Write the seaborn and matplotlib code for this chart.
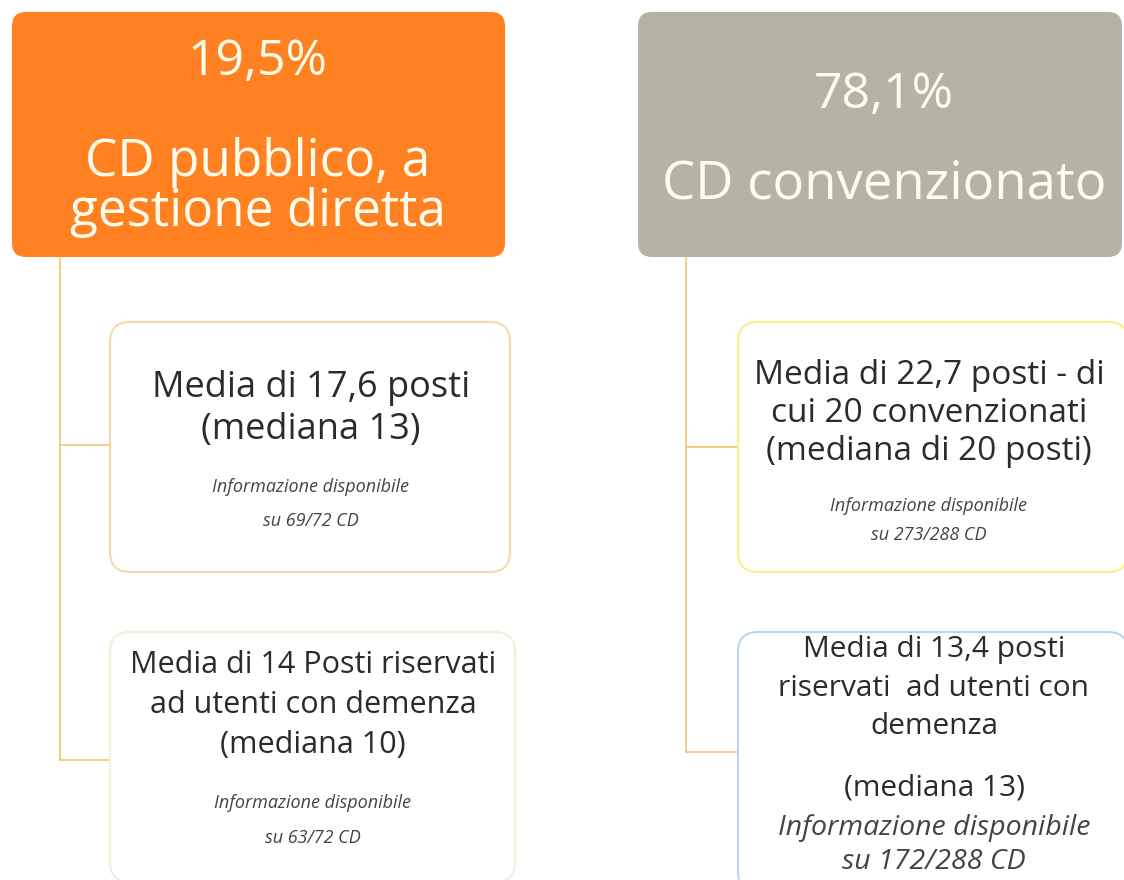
import matplotlib
matplotlib.use("Agg")
import matplotlib.pyplot as plt
from matplotlib.patches import FancyBboxPatch
import seaborn as sns
import pandas as pd

# ---- content ----
header_pct = ["19,5%", "78,1%"]
header_lbl = [["CD pubblico, a", "gestione diretta"], ["CD convenzionato"]]
header_col = ["#FF8121", "#B5B3A3"]

child_main = [
    ["Media di 17,6 posti", "(mediana 13)"],
    ["Media di 14 Posti riservati", "ad utenti con demenza", "(mediana 10)"],
    ["Media di 22,7 posti - di", "cui 20 convenzionati", "(mediana di 20 posti)"],
    ["Media di 13,4 posti", "riservati  ad utenti con", "demenza", "(mediana 13)"],
]
child_note = [
    ["Informazione disponibile", "su 69/72 CD"],
    ["Informazione disponibile", "su 63/72 CD"],
    ["Informazione disponibile", "su 273/288 CD"],
    ["Informazione disponibile", "su 172/288 CD"],
]
child_edge = ["#F7D9A8", "#F3EEDC", "#FAF08A", "#BFD3EE"]

sns.set_theme(style="white")
plt.rcParams['font.family'] = ['Open Sans', 'DejaVu Sans']

W, H = 1124, 880
fig = plt.figure(figsize=(W / 100, H / 100), dpi=100)
ax = fig.add_axes([0, 0, 1, 1])

# connectors
line_col = "#F4C66E"
segs = [((60, 258), (60, 760)), ((60, 445), (110, 445)), ((60, 760), (110, 760)),
        ((686, 258), (686, 752)), ((686, 447), (738, 447)), ((686, 752), (738, 752))]
for p0, p1 in segs:
    df = pd.DataFrame({"x": [p0[0], p1[0]], "y": [p0[1], p1[1]]})
    sns.lineplot(data=df, x="x", y="y", ax=ax, color=line_col, lw=1.2,
                 sort=False, estimator=None, zorder=1)
ax.set_xlim(0, W)
ax.set_ylim(H, 0)
ax.axis("off")

# header boxes
hboxes = [(12, 12, 493, 245), (638, 12, 484, 245)]
for (x, y, w, h), c in zip(hboxes, header_col):
    ax.add_patch(FancyBboxPatch((x + 14, y + 14), w - 28, h - 28,
                                boxstyle="round,pad=14", fc=c, ec="none", zorder=2))

txtc = "#FFFCEB"
ax.text(258, 62, header_pct[0], ha="center", va="center", fontsize=36, color=txtc, zorder=3)
ax.text(258, 163, header_lbl[0][0], ha="center", va="center", fontsize=37, color=txtc, zorder=3)
ax.text(258, 212, header_lbl[0][1], ha="center", va="center", fontsize=37, color=txtc, zorder=3)
ax.text(884, 95, header_pct[1], ha="center", va="center", fontsize=36, color=txtc, zorder=3)
ax.text(884, 185, header_lbl[1][0], ha="center", va="center", fontsize=38, color=txtc, zorder=3)

# child boxes
cboxes = [(110, 322, 400, 250), (110, 632, 405, 250), (738, 322, 390, 250), (738, 632, 390, 260)]
for (x, y, w, h), ec in zip(cboxes, child_edge):
    ax.add_patch(FancyBboxPatch((x + 20, y + 20), w - 40, h - 40,
                                boxstyle="round,pad=20", fc="white", ec=ec, lw=1.5, zorder=2))

tc = "#2B2B2B"
nc = "#444444"
kw = dict(ha="center", va="center", zorder=3)
# child 1
ax.text(311, 388, child_main[0][0], fontsize=26, color=tc, **kw)
ax.text(311, 430, child_main[0][1], fontsize=26, color=tc, **kw)
ax.text(311, 487, child_note[0][0], fontsize=13, style="italic", color=nc, **kw)
ax.text(311, 521, child_note[0][1], fontsize=13, style="italic", color=nc, **kw)
# child 2
ax.text(313, 665, child_main[1][0], fontsize=22, color=tc, **kw)
ax.text(313, 705, child_main[1][1], fontsize=22, color=tc, **kw)
ax.text(313, 745, child_main[1][2], fontsize=22, color=tc, **kw)
ax.text(313, 803, child_note[1][0], fontsize=13, style="italic", color=nc, **kw)
ax.text(313, 838, child_note[1][1], fontsize=13, style="italic", color=nc, **kw)
# child 3
ax.text(929, 375, child_main[2][0], fontsize=24, color=tc, **kw)
ax.text(929, 413, child_main[2][1], fontsize=24, color=tc, **kw)
ax.text(929, 452, child_main[2][2], fontsize=24, color=tc, **kw)
ax.text(929, 506, child_note[2][0], fontsize=13, style="italic", color=nc, **kw)
ax.text(929, 535, child_note[2][1], fontsize=13, style="italic", color=nc, **kw)
# child 4
ax.text(934, 650, child_main[3][0], fontsize=21.5, color=tc, **kw)
ax.text(934, 688, child_main[3][1], fontsize=21.5, color=tc, **kw)
ax.text(934, 727, child_main[3][2], fontsize=21.5, color=tc, **kw)
ax.text(934, 788, child_main[3][3], fontsize=21.5, color=tc, **kw)
ax.text(934, 828, child_note[3][0], fontsize=20.5, style="italic", color=nc, **kw)
ax.text(934, 862, child_note[3][1], fontsize=20.5, style="italic", color=nc, **kw)

fig.savefig("out.png", dpi=100)
